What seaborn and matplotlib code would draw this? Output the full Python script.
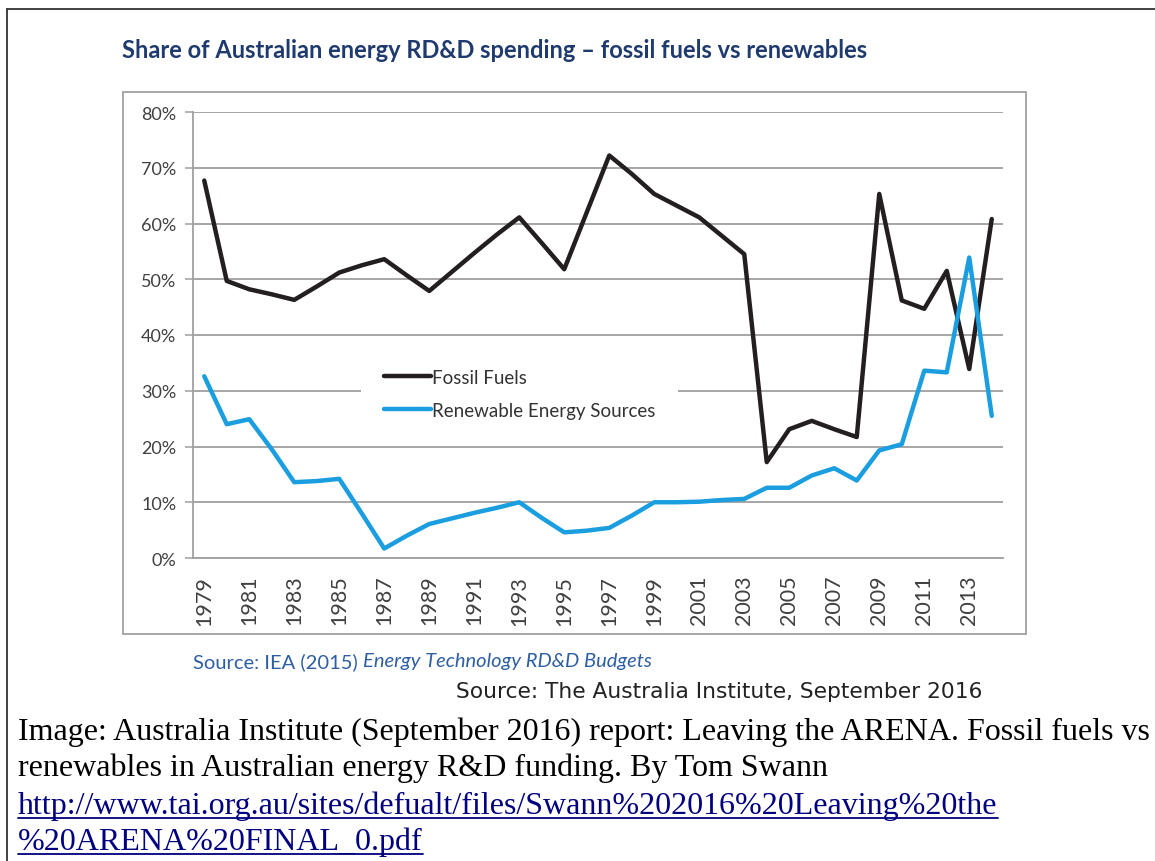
import numpy as np
import pandas as pd
import matplotlib
matplotlib.use("Agg")
import matplotlib.pyplot as plt
import seaborn as sns
from matplotlib.patches import Rectangle
from matplotlib.lines import Line2D
from matplotlib.ticker import FixedLocator, PercentFormatter

years = list(range(1979, 2015))
fossil = [67.7, 49.7, 48.2, 47.3, 46.3, 48.7, 51.2, 52.5, 53.6, 50.7,
          47.9, 51.3, 54.7, 58.0, 61.1, 56.5, 51.8, 62.0, 72.2, 68.9,
          65.3, 63.2, 61.1, 57.8, 54.5, 17.2, 23.1, 24.6, 23.1, 21.7,
          65.3, 46.2, 44.7, 51.5, 33.9, 60.8]
renewable = [32.6, 24.0, 24.9, 19.5, 13.6, 13.8, 14.2, 8.0, 1.7, 4.0,
             6.1, 7.1, 8.1, 9.0, 10.0, 7.2, 4.6, 4.9, 5.4, 7.6,
             10.0, 10.0, 10.1, 10.4, 10.6, 12.6, 12.6, 14.8, 16.1, 13.9,
             19.3, 20.4, 33.6, 33.3, 53.9, 25.5]
series_names = ["Fossil Fuels", "Renewable Energy Sources"]
series_colors = ["#231f20", "#1a9ee0"]
yticks = [0, 10, 20, 30, 40, 50, 60, 70, 80]

df = pd.DataFrame({
    "year": years * 2,
    "share": fossil + renewable,
    "series": [series_names[0]] * len(years) + [series_names[1]] * len(years),
})

sns.set_style("white")
plt.rcParams["font.family"] = ["Lato", "DejaVu Sans"]

W, H = 1155, 862
fig = plt.figure(figsize=(W / 100, H / 100), dpi=100)

def fx(px):
    return px / W

def fy(py):
    return 1 - py / H

# page border (left and top only) and the chart frame
fig.add_artist(Line2D([fx(7), fx(7)], [fy(10), 0], color="#333333", lw=1.3))
fig.add_artist(Line2D([fx(7), 1], [fy(10), fy(10)], color="#333333", lw=1.3))
fig.add_artist(Rectangle((fx(123), fy(635)), fx(1026) - fx(123), fy(93) - fy(635),
                         fill=False, edgecolor="#a0a0a0", lw=1.3))

ax = fig.add_axes([fx(193), fy(559), fx(1003) - fx(193), fy(113) - fy(559)])
sns.lineplot(data=df, x="year", y="share", hue="series", palette=series_colors,
             linewidth=3.2, ax=ax)

ax.set_xlim(years[0] - 0.5, years[-1] + 0.5)
ax.set_ylim(0, 80)
ax.set_yticks(yticks)
ax.yaxis.set_major_formatter(PercentFormatter(decimals=0))
ax.grid(axis="y", color="#a6a6a6", lw=1.4)
ax.set_axisbelow(True)

label_years = years[::2]
ax.set_xticks(label_years)
ax.set_xticklabels([str(y) for y in label_years], rotation=90)
ax.xaxis.set_minor_locator(FixedLocator(np.arange(years[0] - 0.5, years[-1] + 1, 1)))
ax.tick_params(axis="x", which="major", length=0, pad=12, labelsize=15.5, labelcolor="#404040")
ax.tick_params(axis="x", which="minor", length=6, width=1.2, color="#a0a0a0", direction="out")
ax.tick_params(axis="y", length=6, width=1.2, color="#a6a6a6", labelsize=13,
               labelcolor="#404040", pad=6, left=True)
ax.set_xlabel("")
ax.set_ylabel("")

for side in ["top", "right"]:
    ax.spines[side].set_visible(False)
for side in ["left", "bottom"]:
    ax.spines[side].set_color("#a0a0a0")
    ax.spines[side].set_linewidth(1.3)

leg = ax.legend(loc="center left", bbox_to_anchor=(0.196, 0.368), frameon=True,
                facecolor="white", edgecolor="none", framealpha=1, fancybox=False,
                fontsize=13.5, handlelength=2.5, handletextpad=0.1, borderpad=1.2,
                labelspacing=0.85)
for t in leg.get_texts():
    t.set_color("#333333")

fig.text(fx(122), fy(50), "Share of Australian energy RD&D spending \u2013 fossil fuels vs renewables",
         fontsize=17, fontweight="bold", color="#1f3a6e", va="center", ha="left")

src_color = "#2e5fa3"
t1 = fig.text(fx(193), fy(662), "Source: IEA (2015) ", fontsize=14.5, color=src_color,
              va="center", ha="left")
fig.canvas.draw()
bb = t1.get_window_extent()
fig.text(bb.x1 / W, fy(662), "Energy Technology RD&D Budgets", fontsize=14.5,
         color=src_color, style="italic", va="center", ha="left")

fig.text(fx(982), fy(692), "Source: The Australia Institute, September 2016",
         fontsize=15.7, color="#222222", family="DejaVu Sans", va="center", ha="right")

caption = [
    ("Image: Australia Institute (September 2016) report: Leaving the ARENA. Fossil fuels vs", "black", False),
    ("renewables in Australian energy R&D funding. By Tom Swann", "black", False),
    ("http://www.tai.org.au/sites/defualt/files/Swann%202016%20Leaving%20the", "#000080", True),
    ("%20ARENA%20FINAL_0.pdf", "#000080", True),
]
line_y = [732, 768, 806, 842]
for (txt, col, link), yy in zip(caption, line_y):
    t = fig.text(fx(18), fy(yy), txt, fontsize=23, color=col, family="Liberation Serif",
                 va="center", ha="left")
    if link:
        fig.canvas.draw()
        b = t.get_window_extent()
        fig.add_artist(Line2D([b.x0 / W, b.x1 / W], [(b.y0 + 2) / H, (b.y0 + 2) / H],
                              color=col, lw=1.3))

fig.savefig("out.png", dpi=100, facecolor="white")
